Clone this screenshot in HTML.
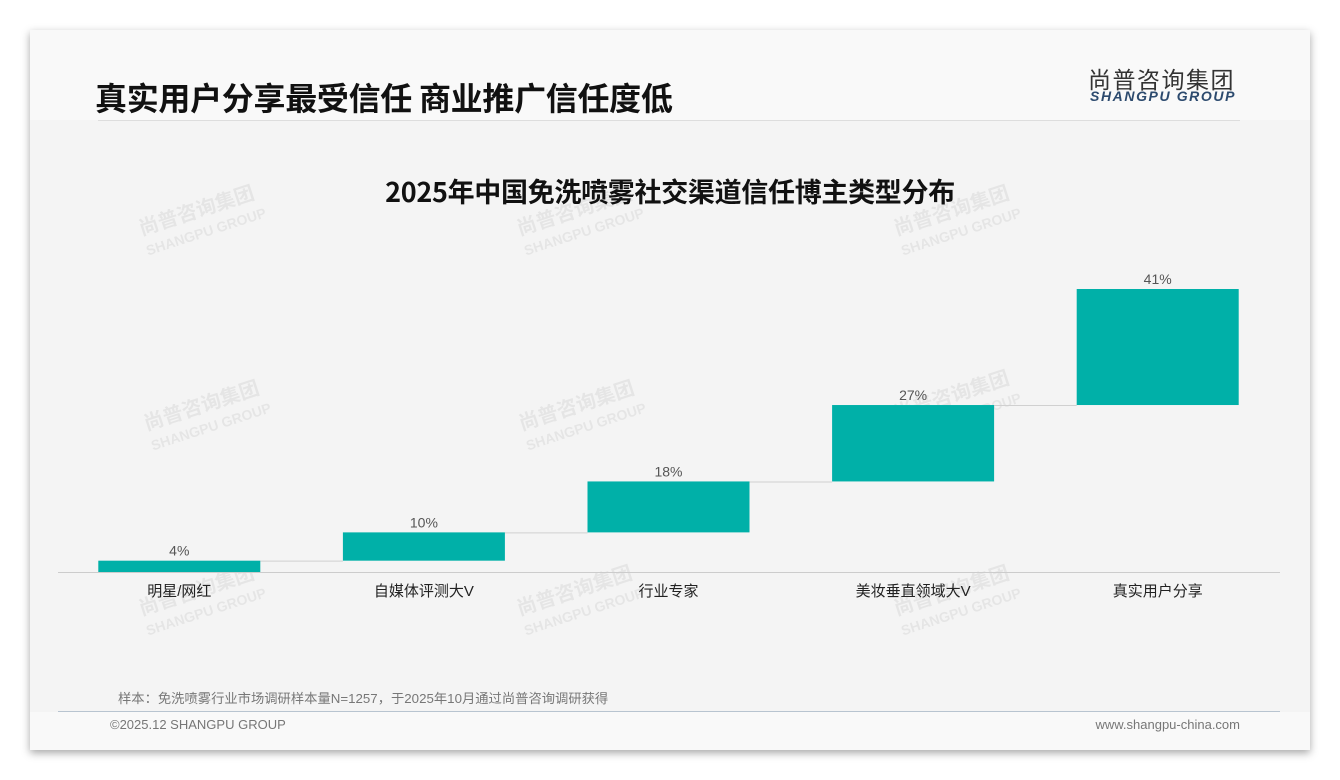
<!DOCTYPE html>
<html><head><meta charset="utf-8"><style>
body{margin:0;width:1340px;height:780px;background:#fff;font-family:"Liberation Sans","Noto Sans CJK SC",sans-serif;position:relative;overflow:hidden}
.card{position:absolute;left:30px;top:30px;width:1280px;height:720px;background:#f9f9f9;box-shadow:0 3px 8px rgba(0,0,0,.35)}
.plot{position:absolute;left:30px;top:120px;width:1280px;height:592px;background:#f4f4f4}
.wm{position:absolute;color:rgba(0,0,0,.06);font-weight:bold;transform:rotate(-18deg);line-height:1.05}
</style></head><body>
<div class="card"></div>
<div class="plot"></div>
<div style="position:absolute;left:95px;top:74px;font-size:32px;font-weight:bold;color:#111;font-family:'Noto Sans CJK SC',sans-serif;letter-spacing:-0.3px">真实用户分享最受信任 商业推广信任度低</div>
<div style="position:absolute;left:1088px;top:61px;font-size:23px;color:#333;font-family:'Noto Sans CJK SC',sans-serif;letter-spacing:1.5px">尚普咨询集团</div>
<div style="position:absolute;left:1090px;top:88px;font-size:14px;color:#2c4a6e;font-weight:bold;font-style:italic;letter-spacing:1.6px">SHANGPU GROUP</div>
<div style="position:absolute;left:98px;top:120px;width:1142px;height:1px;background:#ddd"></div>
<div style="position:absolute;left:0;width:1340px;text-align:center;top:171px;font-size:27px;font-weight:bold;color:#111;font-family:'Noto Sans CJK SC',sans-serif;letter-spacing:-0.3px">2025年中国免洗喷雾社交渠道信任博主类型分布</div>
<div class="wm" style="left:140px;top:200px;font-size:20px">尚普咨询集团<br><span style="font-size:14px">SHANGPU GROUP</span></div>
<div class="wm" style="left:518px;top:200px;font-size:20px">尚普咨询集团<br><span style="font-size:14px">SHANGPU GROUP</span></div>
<div class="wm" style="left:895px;top:200px;font-size:20px">尚普咨询集团<br><span style="font-size:14px">SHANGPU GROUP</span></div>
<div class="wm" style="left:145px;top:395px;font-size:20px">尚普咨询集团<br><span style="font-size:14px">SHANGPU GROUP</span></div>
<div class="wm" style="left:520px;top:395px;font-size:20px">尚普咨询集团<br><span style="font-size:14px">SHANGPU GROUP</span></div>
<div class="wm" style="left:895px;top:385px;font-size:20px">尚普咨询集团<br><span style="font-size:14px">SHANGPU GROUP</span></div>
<div class="wm" style="left:140px;top:580px;font-size:20px">尚普咨询集团<br><span style="font-size:14px">SHANGPU GROUP</span></div>
<div class="wm" style="left:518px;top:580px;font-size:20px">尚普咨询集团<br><span style="font-size:14px">SHANGPU GROUP</span></div>
<div class="wm" style="left:895px;top:580px;font-size:20px">尚普咨询集团<br><span style="font-size:14px">SHANGPU GROUP</span></div>
<svg id="chart" width="1340" height="780" style="position:absolute;left:0;top:0"></svg>
<div style="position:absolute;left:118px;top:688px;font-size:13.3px;color:#777">样本：免洗喷雾行业市场调研样本量N=1257，于2025年10月通过尚普咨询调研获得</div>
<div style="position:absolute;left:58px;top:711px;width:1222px;height:1px;background:#b8c4d0"></div>
<div style="position:absolute;left:110px;top:717px;font-size:13px;color:#777">©2025.12 SHANGPU GROUP</div>
<div style="position:absolute;right:100px;top:717px;font-size:13px;color:#777">www.shangpu-china.com</div>
<script>
const categories=["明星/网红","自媒体评测大V","行业专家","美妆垂直领域大V","真实用户分享"];
const values=[4,10,18,27,41];
const labels=["4%","10%","18%","27%","41%"];
const svg=document.getElementById('chart');const NS="http://www.w3.org/2000/svg";
const base=572,scale=2.83,x0=58,step=244.6,bw=162;
const y=v=>base-v*scale;const xc=i=>x0+step*(i+0.5)-1;
function mk(t,a){const e=document.createElementNS(NS,t);for(const k in a)e.setAttribute(k,a[k]);svg.appendChild(e);return e;}
const ax=mk('line',{x1:58,x2:1280,y1:base+0.5,y2:base+0.5,stroke:'#ccc'});

let cum=0;
values.forEach((v,i)=>{
 const b=cum,t=cum+v;
 if(i<values.length-1){const c=mk('line',{x1:xc(i)+bw/2,x2:xc(i+1)-bw/2,y1:y(t)+0.5,y2:y(t)+0.5,stroke:'#d0d0d0'});
 }
 const r=mk('rect',{x:xc(i)-bw/2,y:y(t),width:bw,height:y(b)-y(t),fill:'#00b0a8'});
 
 const l=mk('text',{x:xc(i),y:y(t)-5,'text-anchor':'middle','font-size':14,fill:'#555'});l.textContent=labels[i];
 
 const c2=mk('text',{x:xc(i),y:596,'text-anchor':'middle','font-size':15,fill:'#222','font-family':'Liberation Sans, Noto Sans CJK SC, sans-serif'});c2.textContent=categories[i];
 
 cum=t;
});
</script>
</body></html>
